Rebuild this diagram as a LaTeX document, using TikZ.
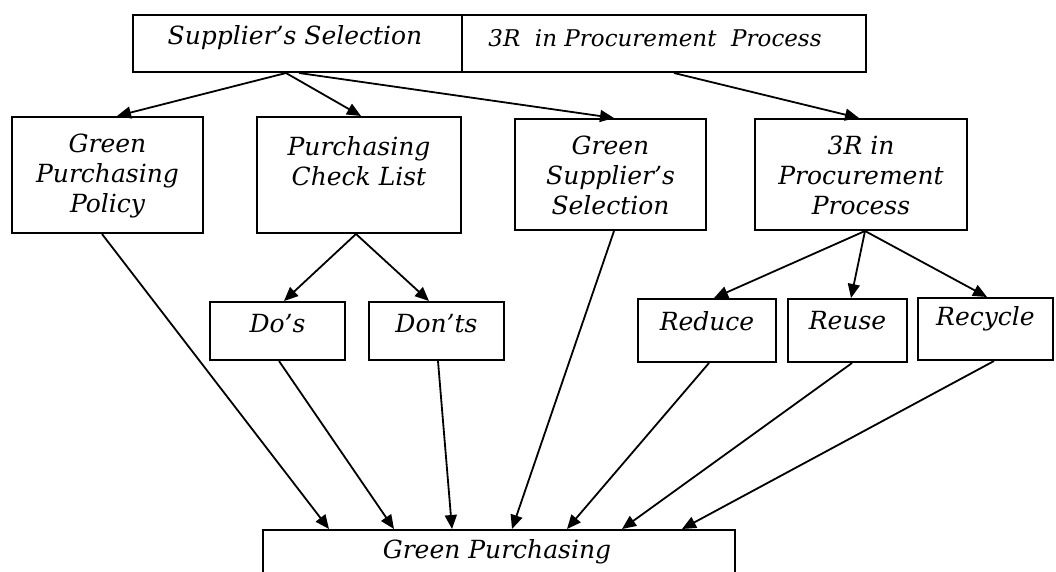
\documentclass[tikz,border=0pt]{standalone}
\usepackage{fontspec}
\setmainfont{DejaVu Serif}
\usetikzlibrary{arrows.meta}
\begin{document}
\begin{tikzpicture}[x=1pt,y=-1pt,
  box/.style={draw,line width=2pt,rectangle,inner sep=0pt},
  txt/.style={font=\fontsize{25}{30}\selectfont\itshape,align=center,inner sep=0pt},
  arr/.style={line width=1.8pt,-{Triangle[length=14pt,width=12pt]}}]
\useasboundingbox (0,0) rectangle (1056,571);
% boxes
\node[box,minimum width=329,minimum height=57] (sup) at (297.5,43.5) {};
\node[box,minimum width=404,minimum height=57] (tri) at (664,43.5) {};
\node[box,minimum width=191,minimum height=116] (gpp) at (107.5,175) {};
\node[box,minimum width=204,minimum height=116] (pcl) at (359,175) {};
\node[box,minimum width=191,minimum height=111] (gss) at (610.5,174.5) {};
\node[box,minimum width=212,minimum height=111] (trp) at (861,174.5) {};
\node[box,minimum width=135,minimum height=58] (dos) at (277.5,331) {};
\node[box,minimum width=135,minimum height=58] (donts) at (436.5,331) {};
\node[box,minimum width=138,minimum height=63] (red) at (707,330.5) {};
\node[box,minimum width=119,minimum height=63] (reu) at (847.5,330.5) {};
\node[box,minimum width=135,minimum height=62] (rec) at (985.5,329) {};
\node[box,minimum width=472,minimum height=70] (gp) at (499,565) {};
% texts
\node[txt] (supt) at (295,38) {Supplier's Selection};
\node[txt,font=\fontsize{23}{30}\selectfont\itshape] (trit) at (655,38) {3R\ \ in Procurement\ \ Process};
\node[txt] (gppt) at (107.5,176) {Green\\Purchasing\\Policy};
\node[txt] (pclt) at (359,161) {Purchasing\\Check List};
\node[txt] (gsst) at (610.5,175) {Green\\Supplier's\\Selection};
\node[txt] (trpt) at (861,175) {3R in\\Procurement\\Process};
\node[txt] (dost) at (277.5,324) {Do's};
\node[txt] (dontst) at (436.5,324) {Don'ts};
\node[txt] (redt) at (707,321) {Reduce};
\node[txt] (reut) at (847.5,321) {Reuse};
\node[txt] (rect) at (985.5,319) {Recycle};
\node[txt] (gpt) at (497,552) {Green Purchasing};
% connectors
\draw[arr] ([xshift=154pt]sup.south west) -- ([xshift=106pt]gpp.north west);
\draw[arr] ([xshift=154pt]sup.south west) -- ([xshift=105pt]pcl.north west);
\draw[arr] ([xshift=167pt]sup.south west) -- ([xshift=100pt]gss.north west);
\draw[arr] ([xshift=213pt]tri.south west) -- ([xshift=105pt]trp.north west);
\draw[arr] ([xshift=100pt]pcl.south west) -- ([xshift=75pt]dos.north west);
\draw[arr] ([xshift=100pt]pcl.south west) -- ([xshift=61pt]donts.north west);
\draw[arr] ([xshift=111pt]trp.south west) -- ([xshift=77pt]red.north west);
\draw[arr] ([xshift=111pt]trp.south west) -- ([xshift=64pt]reu.north west);
\draw[arr] ([xshift=111pt]trp.south west) -- ([xshift=70pt]rec.north west);
\draw[arr] ([xshift=91pt]gpp.south west) -- ([xshift=67pt]gp.north west);
\draw[arr] ([xshift=70pt]dos.south west) -- ([xshift=132pt]gp.north west);
\draw[arr] ([xshift=70pt]donts.south west) -- ([xshift=190pt]gp.north west);
\draw[arr] ([xshift=100pt]gss.south west) -- ([xshift=250pt]gp.north west);
\draw[arr] ([xshift=72pt]red.south west) -- ([xshift=305pt]gp.north west);
\draw[arr] ([xshift=65pt]reu.south west) -- ([xshift=360pt]gp.north west);
\draw[arr] ([xshift=77pt]rec.south west) -- ([xshift=420pt]gp.north west);
\end{tikzpicture}
\end{document}
